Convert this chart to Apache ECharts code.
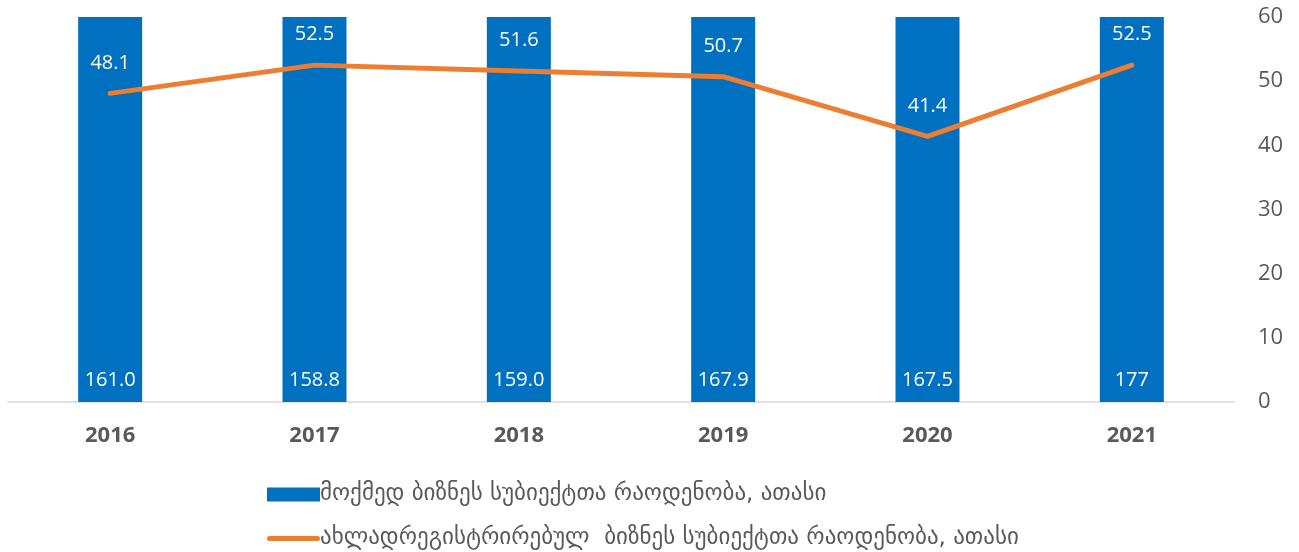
<!DOCTYPE html>
<html>
<head>
<meta charset="utf-8">
<script src="https://cdn.jsdelivr.net/npm/echarts@6/dist/echarts.min.js"></script>
<style>
  html, body { margin: 0; padding: 0; background: #fff; }
  #chart { width: 1299px; height: 552px; }
</style>
</head>
<body>
<div id="chart"></div>
<script>
var years = ['2016', '2017', '2018', '2019', '2020', '2021'];
var activeCount = [161.0, 158.8, 159.0, 167.9, 167.5, 177];   // bars (clipped at 60)
var newCount = [48.1, 52.5, 51.6, 50.7, 41.4, 52.5];          // line
var activeLabels = ['161.0', '158.8', '159.0', '167.9', '167.5', '177'];
var barName = 'მოქმედ ბიზნეს სუბიექტთა რაოდენობა, ათასი';
var lineName = 'ახლადრეგისტრირებულ  ბიზნეს სუბიექტთა რაოდენობა, ათასი';

var font = '"Open Sans", "DejaVu Sans", sans-serif';
// thin rounded line icon, padded to the full legend item height
var lineIcon = 'path://M0,0 L0.01,0 L0,0.01 Z M0,14 L0.01,14 L0,13.99 Z M2.5,4.5 L50.5,4.5 A2.5,2.5 0 0 1 50.5,9.5 L2.5,9.5 A2.5,2.5 0 0 1 2.5,4.5 Z';

function legendAt(top, item) {
    return {
        left: 262,
        top: top,
        itemWidth: 53,
        itemHeight: 14,
        textStyle: { fontSize: 23, color: '#595959', fontFamily: '"DejaVu Sans", sans-serif', padding: [0, 0, 0, -5] },
        data: [item]
    };
}

var chart = echarts.init(document.getElementById('chart'));
var option = {
    animation: false,
    textStyle: { fontFamily: font },
    grid: { left: 8, right: 65, top: 17, bottom: 150 },
    legend: [
        legendAt(478, { name: barName, icon: 'rect' }),
        legendAt(522, { name: lineName, icon: lineIcon })
    ],
    xAxis: {
        type: 'category',
        data: years,
        axisTick: { show: false },
        axisLine: { lineStyle: { color: '#d9d9d9', width: 1.5 } },
        axisLabel: { fontSize: 22, fontWeight: 'bold', color: '#595959', margin: 23 }
    },
    yAxis: {
        type: 'value',
        position: 'right',
        min: 0,
        max: 60,
        interval: 10,
        splitLine: { show: false },
        axisLine: { show: false },
        axisTick: { show: false },
        axisLabel: { fontSize: 22, color: '#595959', margin: 24 }
    },
    series: [{
        name: barName,
        type: 'bar',
        barWidth: 64,
        clip: true,
        data: activeCount,
        itemStyle: { color: '#0070C0' },
        label: {
            show: true,
            position: 'insideBottom',
            distance: 12,
            color: '#fff',
            fontSize: 20,
            formatter: function (p) { return activeLabels[p.dataIndex]; }
        }
    }, {
        name: lineName,
        type: 'line',
        data: newCount,
        symbol: 'circle',
        symbolSize: 1,
        itemStyle: { color: '#ED7D31' },
        lineStyle: { color: '#ED7D31', width: 5, cap: 'round', join: 'round' },
        label: {
            show: true,
            position: 'top',
            distance: 20,
            color: '#fff',
            fontSize: 20,
            formatter: function (p) { return p.value.toFixed(1); }
        }
    }]
};
chart.setOption(option);
</script>
</body>
</html>
